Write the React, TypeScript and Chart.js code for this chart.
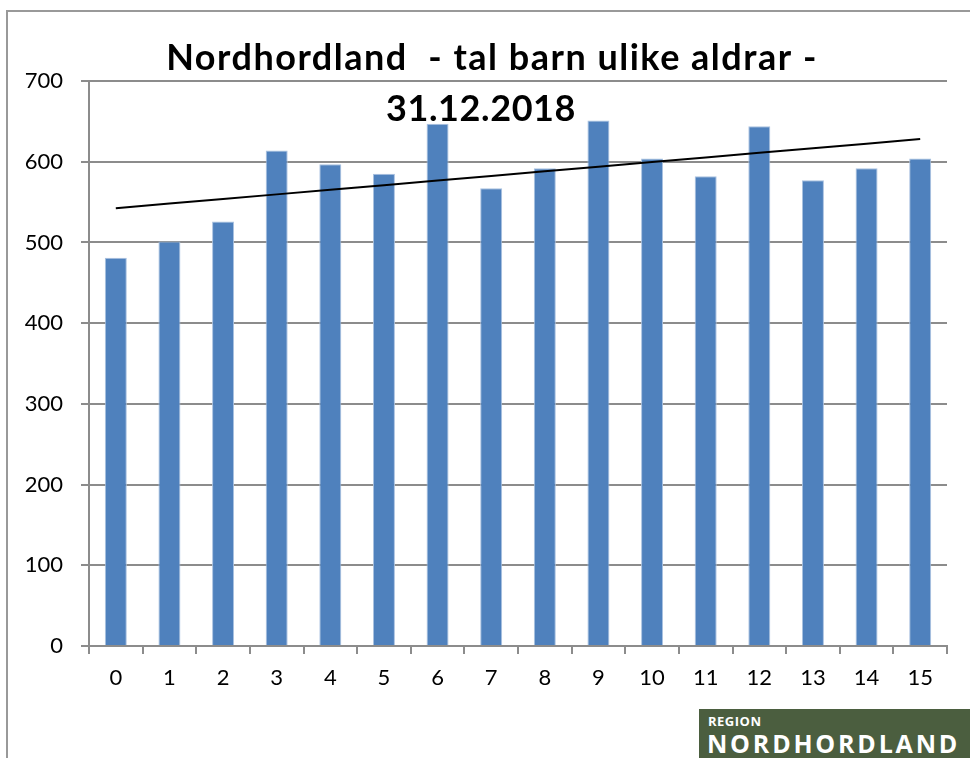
import React, { useEffect, useRef } from "react";
import { Chart, registerables } from "chart.js";

Chart.register(...registerables);

const ageCategories: string[] = ["0", "1", "2", "3", "4", "5", "6", "7", "8", "9", "10", "11", "12", "13", "14", "15"];
const childrenCount: number[] = [481, 501, 526, 614, 597, 585, 647, 567, 592, 651, 604, 582, 644, 577, 592, 604];
const titleLine1 = "Nordhordland  - tal barn ulike aldrar -";
const titleLine2 = "31.12.2018";
const yMin = 0;
const yMax = 700;
const yStep = 100;

// linear trendline (least squares), as the spreadsheet trendline does
function trend(values: number[]): number[] {
  const n = values.length;
  const mx = (n - 1) / 2;
  const my = values.reduce((a, b) => a + b, 0) / n;
  let sxy = 0;
  let sxx = 0;
  values.forEach((v, i) => {
    sxy += (i - mx) * (v - my);
    sxx += (i - mx) * (i - mx);
  });
  const slope = sxy / sxx;
  const intercept = my - slope * mx;
  return values.map((_, i) => intercept + slope * i);
}

const GRAY = "#8C8C8C";
const FONT = "Lato, 'Open Sans', sans-serif";

export default function App() {
  const canvasRef = useRef<HTMLCanvasElement | null>(null);

  useEffect(() => {
    if (!canvasRef.current) return;
    const titlePlugin = {
      id: "twoLineTitle",
      afterDraw(chart: any) {
        const ctx = chart.ctx;
        ctx.save();
        ctx.fillStyle = "#000";
        ctx.font = `bold 36px ${FONT}`;
        ctx.textAlign = "center";
        ctx.textBaseline = "alphabetic";
        (ctx as any).letterSpacing = "1.5px";
        ctx.fillText(titleLine1, 492, 70);
        (ctx as any).letterSpacing = "0.6px";
        ctx.fillText(titleLine2, 481, 121);
        ctx.restore();
      },
    };
    const chart = new Chart(canvasRef.current, {
      data: {
        labels: ageCategories,
        datasets: [
          {
            type: "line",
            label: "Trend",
            data: trend(childrenCount),
            borderColor: "#000",
            borderWidth: 2,
            pointRadius: 0,
            fill: false,
            order: 0,
          } as any,
          {
            type: "bar",
            label: "Tal barn",
            data: childrenCount,
            backgroundColor: "#4F81BD",
            borderColor: "#A9C1E0",
            borderWidth: 1,
            barPercentage: 0.41,
            categoryPercentage: 1,
            order: 1,
          } as any,
        ],
      },
      plugins: [titlePlugin],
      options: {
        animation: false,
        responsive: false,
        layout: { padding: { top: 81, right: 23, left: 0, bottom: 0 } },
        plugins: {
          legend: { display: false },
          tooltip: { enabled: false },
          title: { display: false },
        },
        scales: {
          x: {
            grid: {
              display: true,
              drawOnChartArea: false,
              drawTicks: true,
              tickLength: 8,
              color: GRAY,
              lineWidth: 2,
              offset: true,
            },
            border: { color: GRAY, width: 2 },
            ticks: { color: "#000", font: { family: FONT, size: 22 }, padding: 11 },
            afterFit: (s: any) => {
              s.height = 112;
            },
          },
          y: {
            min: yMin,
            max: yMax,
            ticks: { stepSize: yStep, color: "#000", font: { family: FONT, size: 22 }, padding: 18 },
            grid: { color: GRAY, lineWidth: 2, tickLength: 8 },
            border: { color: GRAY, width: 2 },
            afterFit: (s: any) => {
              s.width = 89;
            },
          },
        },
      } as any,
    });
    return () => chart.destroy();
  }, []);

  return (
    <div style={{ position: "fixed", left: 0, top: 0, width: 970, height: 758, overflow: "hidden", background: "#fff" }}>
      <div
        style={{
          position: "absolute",
          left: 6,
          top: 10,
          width: 2000,
          height: 2000,
          borderLeft: "2px solid #999",
          borderTop: "2px solid #999",
        }}
      />
      <canvas ref={canvasRef} width={970} height={758} style={{ position: "absolute", left: 0, top: 0 }} />
      <div
        style={{
          position: "absolute",
          left: 699,
          top: 709,
          width: 271,
          height: 49,
          background: "#4B5E3F",
          color: "#fff",
          fontFamily: "'Open Sans', sans-serif",
          fontWeight: 700,
          overflow: "hidden",
        }}
      >
        <div style={{ position: "absolute", left: 9, top: 5, fontSize: 13, lineHeight: "14px", letterSpacing: 0.5 }}>REGION</div>
        <div style={{ position: "absolute", left: 8, top: 20, fontSize: 25, lineHeight: "28px", letterSpacing: 2.8 }}>NORDHORDLAND</div>
      </div>
    </div>
  );
}
